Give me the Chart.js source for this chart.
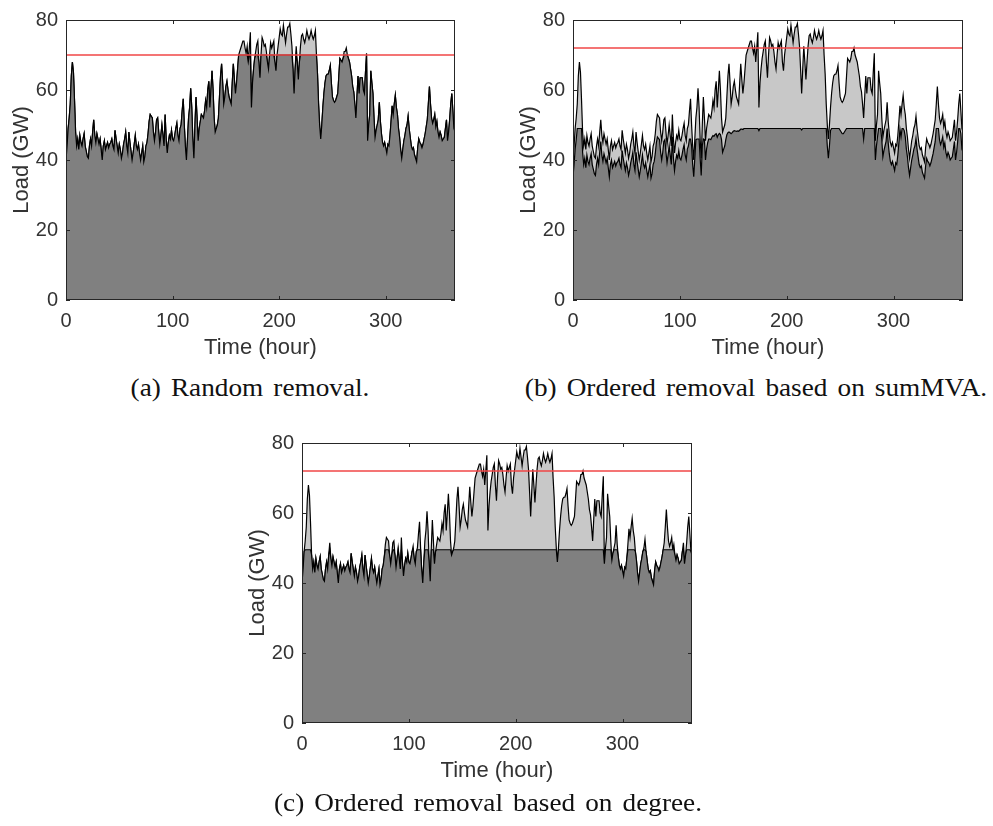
<!DOCTYPE html>
<html>
<head>
<meta charset="utf-8">
<script src="https://cdn.jsdelivr.net/npm/chart.js@4.4.0/dist/chart.umd.min.js"></script>
<style>
  body { margin: 0; background: #fff; }
  #wrap { position: relative; width: 993px; height: 826px; background: #fff; overflow: hidden; }
  canvas { position: absolute; }
  .cap {
    position: absolute; transform: translateX(-50%) scaleX(1.09); white-space: nowrap;
    font-family: "Liberation Serif", "Times New Roman", serif; font-size: 25px;
    line-height: 25px; word-spacing: 3px; color: #111;
  }
</style>
</head>
<body>
<div id="wrap">
  <canvas id="chart-a" width="470" height="370" style="left:0;top:0"></canvas>
  <canvas id="chart-b" width="471" height="370" style="left:507px;top:0"></canvas>
  <canvas id="chart-c" width="471" height="370" style="left:236px;top:423px"></canvas>
  <div class="cap" style="left:250px;top:375px">(a) Random removal.</div>
  <div class="cap" style="left:756px;top:375px">(b) Ordered removal based on sumMVA.</div>
  <div class="cap" style="left:488px;top:790px">(c) Ordered removal based on degree.</div>
</div>
<script>
// total demand, GW, one value per hour
const totalLoad = [
  40,44,49,52,56,64,68,65,57,48,44,46,43,47,45,44,46,47.5,44,42.5,
  41,40.5,44,46,44,48,51.5,47,45,47.5,46,44.5,46,43,40,44,45.5,43,44,45,
  43.5,44.5,45,46,44,43,48.5,46,44,42,44.5,43,40.5,42,44.5,46,48,44,42,48,
  45,42.5,40,42,44.5,47,44,43,44.5,42,40,42,44,39.5,41,44,45,47.5,51,53,
  52.5,52,48,45.5,48,51.5,52,48,44.5,47,50,47,44,53,46,42,45,47,46,48.5,
  46,45.5,47,49,50.5,47,45.5,49,50,54,57.5,50,44,40,46,52,55,60.5,55,46,
  40.5,50,58,52,45.5,49,51,53,52.5,52,54,57,55,60,62.5,55,60,65.5,60,52,
  48,49,50,52,58,64,67.5,62,56,58,61,62.5,60,58,57,56,62,67.5,63,59,
  62,66,70,71,72,73,74,74,72,70.5,72.5,68,72,76.5,55,62,66,69,71,73,
  74,68,63.5,70,75,74,72.5,73,71,68,66,70,73.5,72,73,74,68,65.5,70,72.5,
  75,77.5,76,75.5,78.5,76,73.5,76,78,78,79,76,72.5,66,59,66,72.5,68,63,68,
  72.5,75.5,76,74.5,73.5,75,77,75.5,74.5,75.5,77,75.5,74.5,75.5,77,70,64.5,56,50,46,
  50,55,59,62,64,64.5,64.5,65.5,67,62,58,57,56.5,57,58,59,64,69,68.5,68,
  69,71,71,72,70,69,68,66,64,61,59.5,56,52,58,64,59,63.5,63.5,63.5,60,
  59,65,70.5,45.5,50,53,65.5,62,59,52,46.5,48.5,50,51.5,56.5,51,47.5,45,44,45,
  43.5,42,44.5,44,47,51,55.5,53,56,58.5,55,53,49,46.5,43,40.5,43,45.5,47,49,
  50,52.5,49,46.5,44,43,43.5,41.5,40.5,39.5,43.5,46,45,44.5,43.5,44.5,46,47.5,49.5,51.5,
  56,61,56,52,50.5,51.5,53,49.5,51,48,46.5,48,47,45.5,46,46.5,49,51.5,45.5,48,
  51.5,56,59,54,49,48
];

// (a) served load after random removal
const servedRandom = [
  40,44,49,52,56,64,68,65,57,48,44,46,43,47,45,44,46,47.5,44,42.5,
  41,40.5,44,46,44,48,51.5,47,45,47.5,46,44.5,46,43,40,44,45.5,43,44,45,
  43.5,44.5,45,46,44,43,48.5,46,44,42,44.5,43,40.5,42,44.5,46,48,44,42,48,
  45,42.5,40,42,44.5,47,44,43,44.5,42,40,42,44,39.5,41,44,45,47.5,51,53,
  52.5,52,48,45.5,48,51.5,52,48,44.5,47,50,47,44,53,46,42,45,47,46,48.5,
  46,45.5,47,49,50.5,47,45.5,49,50,54,57.5,50,44,40,46,52,55,60.5,55,46,
  40.5,50,58,52,45.5,49,51,53,52.5,52,54,57,55,60,62.5,55,60,65.5,60,52,
  48,49,50,52,58,64,67.5,62,56,58,61,62.5,60,58,57,56,62,67.5,63,59,
  62,66,70,70,70,70,70,70,70,70,70,68,70,70,55,62,66,69,70,70,
  70,68,63.5,70,70,70,70,70,70,68,66,70,70,70,70,70,68,65.5,70,70,
  70,70,70,70,70,70,70,70,70,70,70,70,70,66,59,66,70,68,63,68,
  70,70,70,70,70,70,70,70,70,70,70,70,70,70,70,70,64.5,56,50,46,
  50,55,59,62,64,64.5,64.5,65.5,67,62,58,57,56.5,57,58,59,64,69,68.5,68,
  69,70,70,70,70,69,68,66,64,61,59.5,56,52,58,64,59,63.5,63.5,63.5,60,
  59,65,70,45.5,50,53,65.5,62,59,52,46.5,48.5,50,51.5,56.5,51,47.5,45,44,45,
  43.5,42,44.5,44,47,51,55.5,53,56,58.5,55,53,49,46.5,43,40.5,43,45.5,47,49,
  50,52.5,49,46.5,44,43,43.5,41.5,40.5,39.5,43.5,46,45,44.5,43.5,44.5,46,47.5,49.5,51.5,
  56,61,56,52,50.5,51.5,53,49.5,51,48,46.5,48,47,45.5,46,46.5,49,51.5,45.5,48,
  51.5,56,59,54,49,48
];

// (b) served load, ordered removal by sumMVA
const servedSumMVA = [
  35.2,38.7,43.1,45.8,49,49,49,49,49,42.2,38.7,40.5,37.8,41.4,39.6,38.7,40.5,41.8,38.7,37.4,
  36.1,35.6,38.7,40.5,38.7,42.2,45.3,41.4,39.6,41.8,40.5,39.2,40.5,37.8,35.2,38.7,40,37.8,38.7,39.6,
  38.3,39.2,39.6,40.5,38.7,37.8,42.7,40.5,38.7,37,39.2,37.8,35.6,37,39.2,40.5,42.2,38.7,37,42.2,
  39.6,37.4,35.2,37,39.2,41.4,38.7,37.8,39.2,37,35.2,37,38.7,34.8,36.1,38.7,39.6,41.8,44.9,46.6,
  46.2,45.8,42.2,40,42.2,45.3,45.8,42.2,39.2,41.4,44,41.4,38.7,46.6,40.5,37,39.6,41.4,40.5,42.7,
  40.5,40,41.4,43.1,44.4,41.4,40,43.1,44,46,46,44,38.7,35.2,40.5,45.8,46,46,46,40.5,
  35.6,44,46,45.8,40,43.1,44.9,46,46,45.8,46.5,47,46.8,47.3,47.5,46.5,47.2,47.6,47.3,45.8,
  42.2,43.1,44,45.8,47.2,47.8,48,47.8,47.5,47.8,48.2,48.4,48.3,48.2,48.3,48.2,48.5,48.8,48.8,48.7,
  49,49,49,49,49,49,49,49,49,49,49,49,49,49,48.4,49,49,49,49,49,
  49,49,49,49,49,49,49,49,49,49,49,49,49,49,49,49,49,49,49,49,
  49,49,49,49,49,49,49,49,49,49,49,49,49,49,48.6,49,49,49,49,49,
  49,49,49,49,49,49,49,49,49,49,49,49,49,49,49,49,49,49,44,40.5,
  44,48.4,49,49,49,49,49,49,49,49,48.5,48,47.5,47.5,48,48.5,49,49,49,49,
  49,49,49,49,49,49,49,49,49,49,49,49,46,49,49,49,49,49,49,49,
  49,49,49,40,44,46.6,49,49,49,45.8,40.9,42.7,44,45.3,49,44.9,41.8,39.6,38.7,39.6,
  38.3,37,39.2,38.7,41.4,44.9,48.8,46.6,49,49,48.4,46.6,43.1,40.9,37.8,35.6,37.8,40,41.4,43.1,
  44,46.2,43.1,40.9,38.7,37.8,38.3,36.5,35.6,34.8,38.3,40.5,39.6,39.2,38.3,39.2,40.5,41.8,43.6,45.3,
  49,49,49,45.8,44.4,45.3,46.6,43.6,44.9,42.2,40.9,42.2,41.4,40,40.5,40.9,43.1,45.3,40,42.2,
  45.3,49,49,47.5,43.1,42.2
];

// (c) served load, ordered removal by degree
const servedDegree = [
  40,44,49,49.5,49.5,49.5,49.5,49.5,49.5,48,44,46,43,47,45,44,46,47.5,44,42.5,
  41,40.5,44,46,44,48,49.5,47,45,47.5,46,44.5,46,43,40,44,45.5,43,44,45,
  43.5,44.5,45,46,44,43,48.5,46,44,42,44.5,43,40.5,42,44.5,46,48,44,42,48,
  45,42.5,40,42,44.5,47,44,43,44.5,42,40,42,44,39.5,41,44,45,47.5,49.5,49.5,
  49.5,49.5,48,45.5,48,49.5,49.5,48,44.5,47,49.5,47,44,49.5,46,42,45,47,46,48.5,
  46,45.5,47,49,49.5,47,45.5,49,49.5,49.5,49.5,49.5,44,40,46,49.5,49.5,49.5,49.5,46,
  40.5,49.5,49.5,49.5,45.5,49,49.5,49.5,49.5,49.5,49.5,49.5,49.5,49.5,49.5,49.5,49.5,49.5,49.5,49.5,
  48,49,49.5,49.5,49.5,49.5,49.5,49.5,49.5,49.5,49.5,49.5,49.5,49.5,49.5,49.5,49.5,49.5,49.5,49.5,
  49.5,49.5,49.5,49.5,49.5,49.5,49.5,49.5,49.5,49.5,49.5,49.5,49.5,49.5,49.5,49.5,49.5,49.5,49.5,49.5,
  49.5,49.5,49.5,49.5,49.5,49.5,49.5,49.5,49.5,49.5,49.5,49.5,49.5,49.5,49.5,49.5,49.5,49.5,49.5,49.5,
  49.5,49.5,49.5,49.5,49.5,49.5,49.5,49.5,49.5,49.5,49.5,49.5,49.5,49.5,49.5,49.5,49.5,49.5,49.5,49.5,
  49.5,49.5,49.5,49.5,49.5,49.5,49.5,49.5,49.5,49.5,49.5,49.5,49.5,49.5,49.5,49.5,49.5,49.5,49.5,46,
  49.5,49.5,49.5,49.5,49.5,49.5,49.5,49.5,49.5,49.5,49.5,49.5,49.5,49.5,49.5,49.5,49.5,49.5,49.5,49.5,
  49.5,49.5,49.5,49.5,49.5,49.5,49.5,49.5,49.5,49.5,49.5,49.5,49.5,49.5,49.5,49.5,49.5,49.5,49.5,49.5,
  49.5,49.5,49.5,45.5,49.5,49.5,49.5,49.5,49.5,49.5,46.5,48.5,49.5,49.5,49.5,49.5,47.5,45,44,45,
  43.5,42,44.5,44,47,49.5,49.5,49.5,49.5,49.5,49.5,49.5,49,46.5,43,40.5,43,45.5,47,49,
  49.5,49.5,49,46.5,44,43,43.5,41.5,40.5,39.5,43.5,46,45,44.5,43.5,44.5,46,47.5,49.5,49.5,
  49.5,49.5,49.5,49.5,49.5,49.5,49.5,49.5,49.5,48,46.5,48,47,45.5,46,46.5,49,49.5,45.5,48,
  49.5,49.5,49.5,49.5,49,48
];

// capacity limit drawn in red, one per panel
const capacity = [70, 72, 72];

const xTicks = [0, 100, 200, 300];
const yTicks = [0, 20, 40, 60, 80];
const hours = totalLoad.map((_, i) => i);

Chart.defaults.font.family = '"Liberation Sans", Arial, Helvetica, sans-serif';
Chart.defaults.color = '#333';

// MATLAB style box with inward ticks
const boxPlugin = {
  id: 'box',
  afterDatasetsDraw(chart) {
    const { ctx, chartArea: a, scales: { x, y } } = chart;
    ctx.save();
    ctx.strokeStyle = '#262626';
    ctx.lineWidth = 1;
    ctx.strokeRect(a.left + 0.5, a.top + 0.5, a.width - 1, a.height - 1);
    ctx.beginPath();
    xTicks.forEach((v) => {
      const px = Math.round(x.getPixelForValue(v)) + 0.5;
      ctx.moveTo(px, a.bottom);
      ctx.lineTo(px, a.bottom - 4);
      ctx.moveTo(px, a.top);
      ctx.lineTo(px, a.top + 4);
    });
    yTicks.forEach((v) => {
      const py = Math.round(y.getPixelForValue(v)) + 0.5;
      ctx.moveTo(a.left, py);
      ctx.lineTo(a.left + 4, py);
      ctx.moveTo(a.right, py);
      ctx.lineTo(a.right - 4, py);
    });
    ctx.stroke();
    ctx.restore();
  },
};

function makeChart(id, served, cap) {
  return new Chart(document.getElementById(id), {
    type: 'line',
    data: {
      labels: hours,
      datasets: [
        {
          data: [{ x: 0, y: cap }, { x: 365, y: cap }],
          borderColor: 'rgb(240, 70, 70)',
          borderWidth: 1.6,
          pointRadius: 0,
          fill: false,
        },
        {
          data: served,
          borderColor: '#000',
          borderWidth: 1.2,
          backgroundColor: '#808080',
          pointRadius: 0,
          fill: 'origin',
        },
        {
          data: totalLoad,
          borderColor: '#000',
          borderWidth: 1.2,
          backgroundColor: '#c8c8c8',
          pointRadius: 0,
          fill: 'origin',
        },
      ],
    },
    options: {
      responsive: false,
      animation: false,
      devicePixelRatio: 1,
      layout: { padding: { top: 14, right: 15, left: 0, bottom: 0 } },
      plugins: { legend: { display: false }, tooltip: { enabled: false } },
      scales: {
        x: {
          type: 'linear',
          min: 0,
          max: 365,
          afterBuildTicks: (s) => { s.ticks = xTicks.map((v) => ({ value: v })); },
          afterFit: (s) => { s.height = 70; },
          grid: { display: false, drawTicks: false },
          border: { display: false },
          ticks: { font: { size: 20 }, padding: 9, maxRotation: 0 },
          title: { display: true, text: 'Time (hour)', font: { size: 22 }, padding: { top: 0, bottom: 9 } },
        },
        y: {
          min: 0,
          max: 80,
          afterBuildTicks: (s) => { s.ticks = yTicks.map((v) => ({ value: v })); },
          afterFit: (s) => { s.width = 66; },
          grid: { display: false, drawTicks: false },
          border: { display: false },
          ticks: { font: { size: 20 }, padding: 8 },
          title: { display: true, text: 'Load (GW)', font: { size: 22 }, padding: { top: 9, bottom: 0 } },
        },
      },
    },
    plugins: [boxPlugin],
  });
}

makeChart('chart-a', servedRandom, capacity[0]);
makeChart('chart-b', servedSumMVA, capacity[1]);
makeChart('chart-c', servedDegree, capacity[2]);
</script>
</body>
</html>
